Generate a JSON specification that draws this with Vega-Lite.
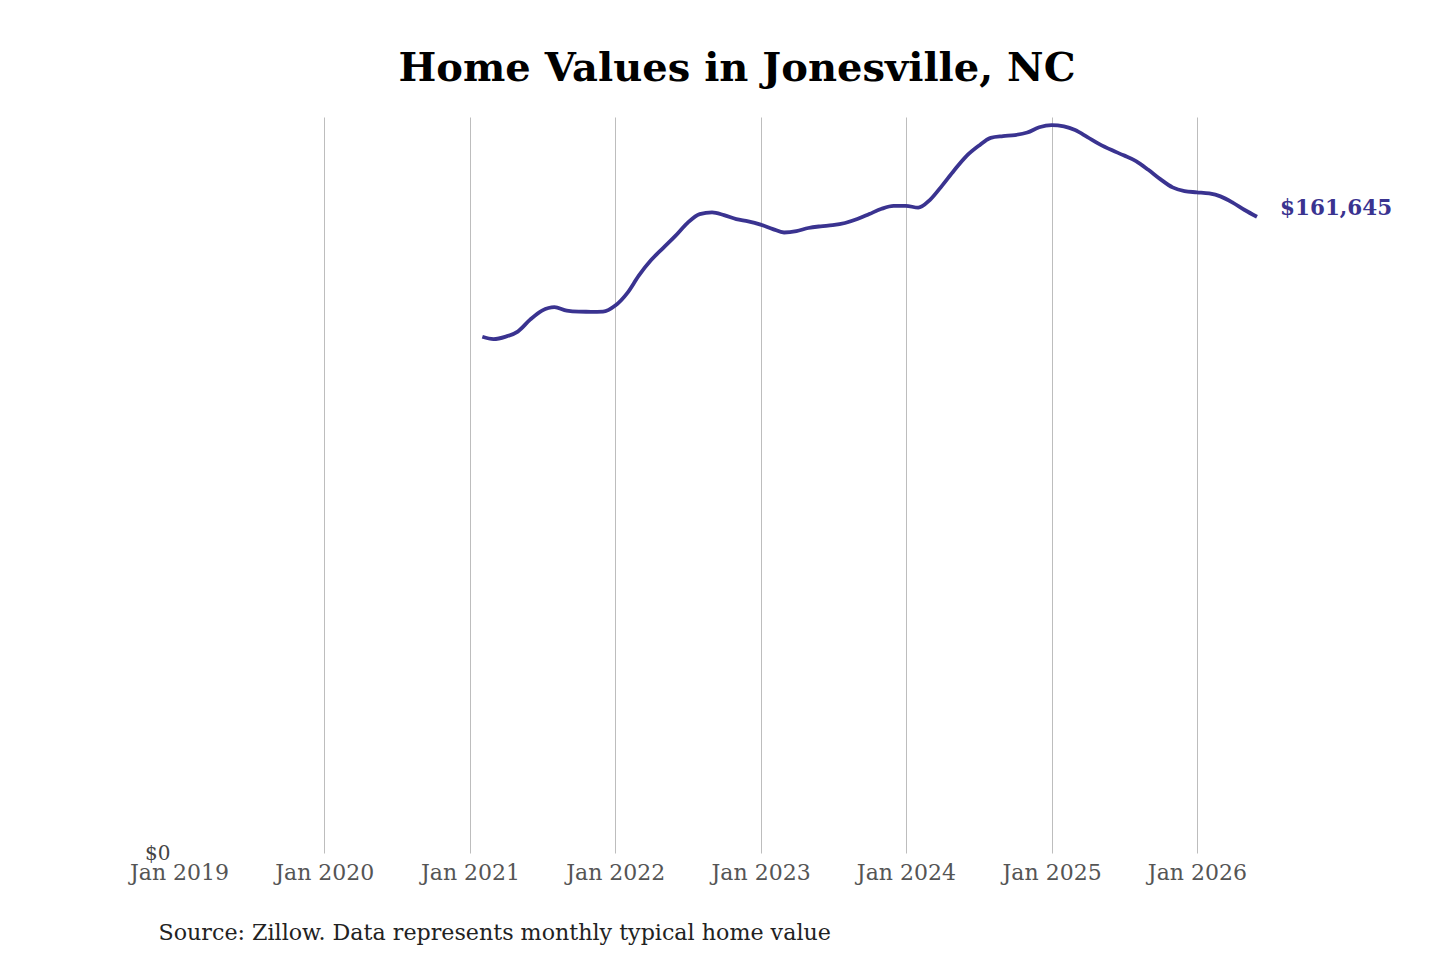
{
  "$schema": "https://vega.github.io/schema/vega-lite/v6.json",
  "width": 1078,
  "height": 736,
  "autosize": "none",
  "padding": {"left": 179, "top": 117, "right": 183, "bottom": 107},
  "background": "white",
  "config": {
    "view": {"stroke": null},
    "font": "DejaVu Serif"
  },
  "title": {
    "text": "Home Values in Jonesville, NC",
    "font": "DejaVu Serif",
    "fontWeight": "bold",
    "fontSize": 40,
    "color": "#000000",
    "anchor": "middle",
    "dx": 19,
    "offset": 28
  },
  "data": {
    "values": [
      {"date": "2021-02-01", "value": 131160},
      {"date": "2021-03-01", "value": 130577},
      {"date": "2021-04-01", "value": 131212},
      {"date": "2021-05-01", "value": 132482},
      {"date": "2021-06-01", "value": 135505},
      {"date": "2021-07-01", "value": 137817},
      {"date": "2021-08-01", "value": 138706},
      {"date": "2021-09-01", "value": 137791},
      {"date": "2021-10-01", "value": 137537},
      {"date": "2021-11-01", "value": 137512},
      {"date": "2021-12-01", "value": 137563},
      {"date": "2022-01-01", "value": 139087},
      {"date": "2022-02-01", "value": 142389},
      {"date": "2022-03-01", "value": 146708},
      {"date": "2022-04-01", "value": 150646},
      {"date": "2022-05-01", "value": 153694},
      {"date": "2022-06-01", "value": 156794},
      {"date": "2022-07-01", "value": 160045},
      {"date": "2022-08-01", "value": 162332},
      {"date": "2022-09-01", "value": 162764},
      {"date": "2022-10-01", "value": 162078},
      {"date": "2022-11-01", "value": 161061},
      {"date": "2022-12-01", "value": 160502},
      {"date": "2023-01-01", "value": 159664},
      {"date": "2023-02-01", "value": 158521},
      {"date": "2023-03-01", "value": 157657},
      {"date": "2023-04-01", "value": 157988},
      {"date": "2023-05-01", "value": 158800},
      {"date": "2023-06-01", "value": 159232},
      {"date": "2023-07-01", "value": 159512},
      {"date": "2023-08-01", "value": 160071},
      {"date": "2023-09-01", "value": 161061},
      {"date": "2023-10-01", "value": 162332},
      {"date": "2023-11-01", "value": 163678},
      {"date": "2023-12-01", "value": 164415},
      {"date": "2024-01-01", "value": 164440},
      {"date": "2024-02-01", "value": 163958},
      {"date": "2024-03-01", "value": 165888},
      {"date": "2024-04-01", "value": 169572},
      {"date": "2024-05-01", "value": 173408},
      {"date": "2024-06-01", "value": 177066},
      {"date": "2024-07-01", "value": 179606},
      {"date": "2024-08-01", "value": 181715},
      {"date": "2024-09-01", "value": 182147},
      {"date": "2024-10-01", "value": 182401},
      {"date": "2024-11-01", "value": 183061},
      {"date": "2024-12-01", "value": 184382},
      {"date": "2025-01-01", "value": 184941},
      {"date": "2025-02-01", "value": 184611},
      {"date": "2025-03-01", "value": 183671},
      {"date": "2025-04-01", "value": 181893},
      {"date": "2025-05-01", "value": 180114},
      {"date": "2025-06-01", "value": 178590},
      {"date": "2025-07-01", "value": 177269},
      {"date": "2025-08-01", "value": 175796},
      {"date": "2025-09-01", "value": 173585},
      {"date": "2025-10-01", "value": 171223},
      {"date": "2025-11-01", "value": 169114},
      {"date": "2025-12-01", "value": 168174},
      {"date": "2026-01-01", "value": 167870},
      {"date": "2026-02-01", "value": 167565},
      {"date": "2026-03-01", "value": 166828},
      {"date": "2026-04-01", "value": 165253},
      {"date": "2026-05-01", "value": 163373},
      {"date": "2026-06-01", "value": 161645, "last": true}
    ]
  },
  "encoding": {
    "x": {
      "field": "date",
      "type": "temporal",
      "scale": {"domain": ["2019-01-01", "2026-06-01"]},
      "axis": {
        "values": ["2019-01-01", "2020-01-01", "2021-01-01", "2022-01-01", "2023-01-01", "2024-01-01", "2025-01-01", "2026-01-01"],
        "format": "%b %Y",
        "domain": false,
        "ticks": false,
        "grid": true,
        "gridColor": "#bdbdbd",
        "gridWidth": 1,
        "gridOpacity": {"condition": {"test": "year(datum.value) == 2019", "value": 0}, "value": 1},
        "labelFlush": false,
        "labelOverlap": false,
        "labelFont": "DejaVu Serif",
        "labelFontSize": 22,
        "labelColor": "#555555",
        "labelPadding": 9,
        "title": "Source: Zillow. Data represents monthly typical home value",
        "titleFont": "DejaVu Serif",
        "titleFontSize": 22.2,
        "titleFontWeight": "normal",
        "titleColor": "#222222",
        "titleAnchor": "start",
        "titleAlign": "left",
        "titleBaseline": "alphabetic",
        "titleX": -21,
        "titleY": 86
      }
    },
    "y": {
      "field": "value",
      "type": "quantitative",
      "scale": {"domain": [0, 187000], "nice": false},
      "axis": {
        "values": [0],
        "format": "$,.0f",
        "domain": false,
        "ticks": false,
        "grid": false,
        "labelFont": "DejaVu Serif",
        "labelFontSize": 20,
        "labelColor": "#444444",
        "labelPadding": 9,
        "title": null
      }
    }
  },
  "layer": [
    {
      "mark": {"type": "line", "color": "#3a3390", "strokeWidth": 3.8, "interpolate": "monotone"}
    },
    {
      "transform": [{"filter": "datum.last === true"}],
      "mark": {
        "type": "text",
        "align": "left",
        "baseline": "middle",
        "dx": 23,
        "dy": -8,
        "font": "DejaVu Serif",
        "fontWeight": "bold",
        "fontSize": 21.5,
        "color": "#3a3390"
      },
      "encoding": {
        "text": {"field": "value", "type": "quantitative", "format": "$,.0f"}
      }
    }
  ]
}
